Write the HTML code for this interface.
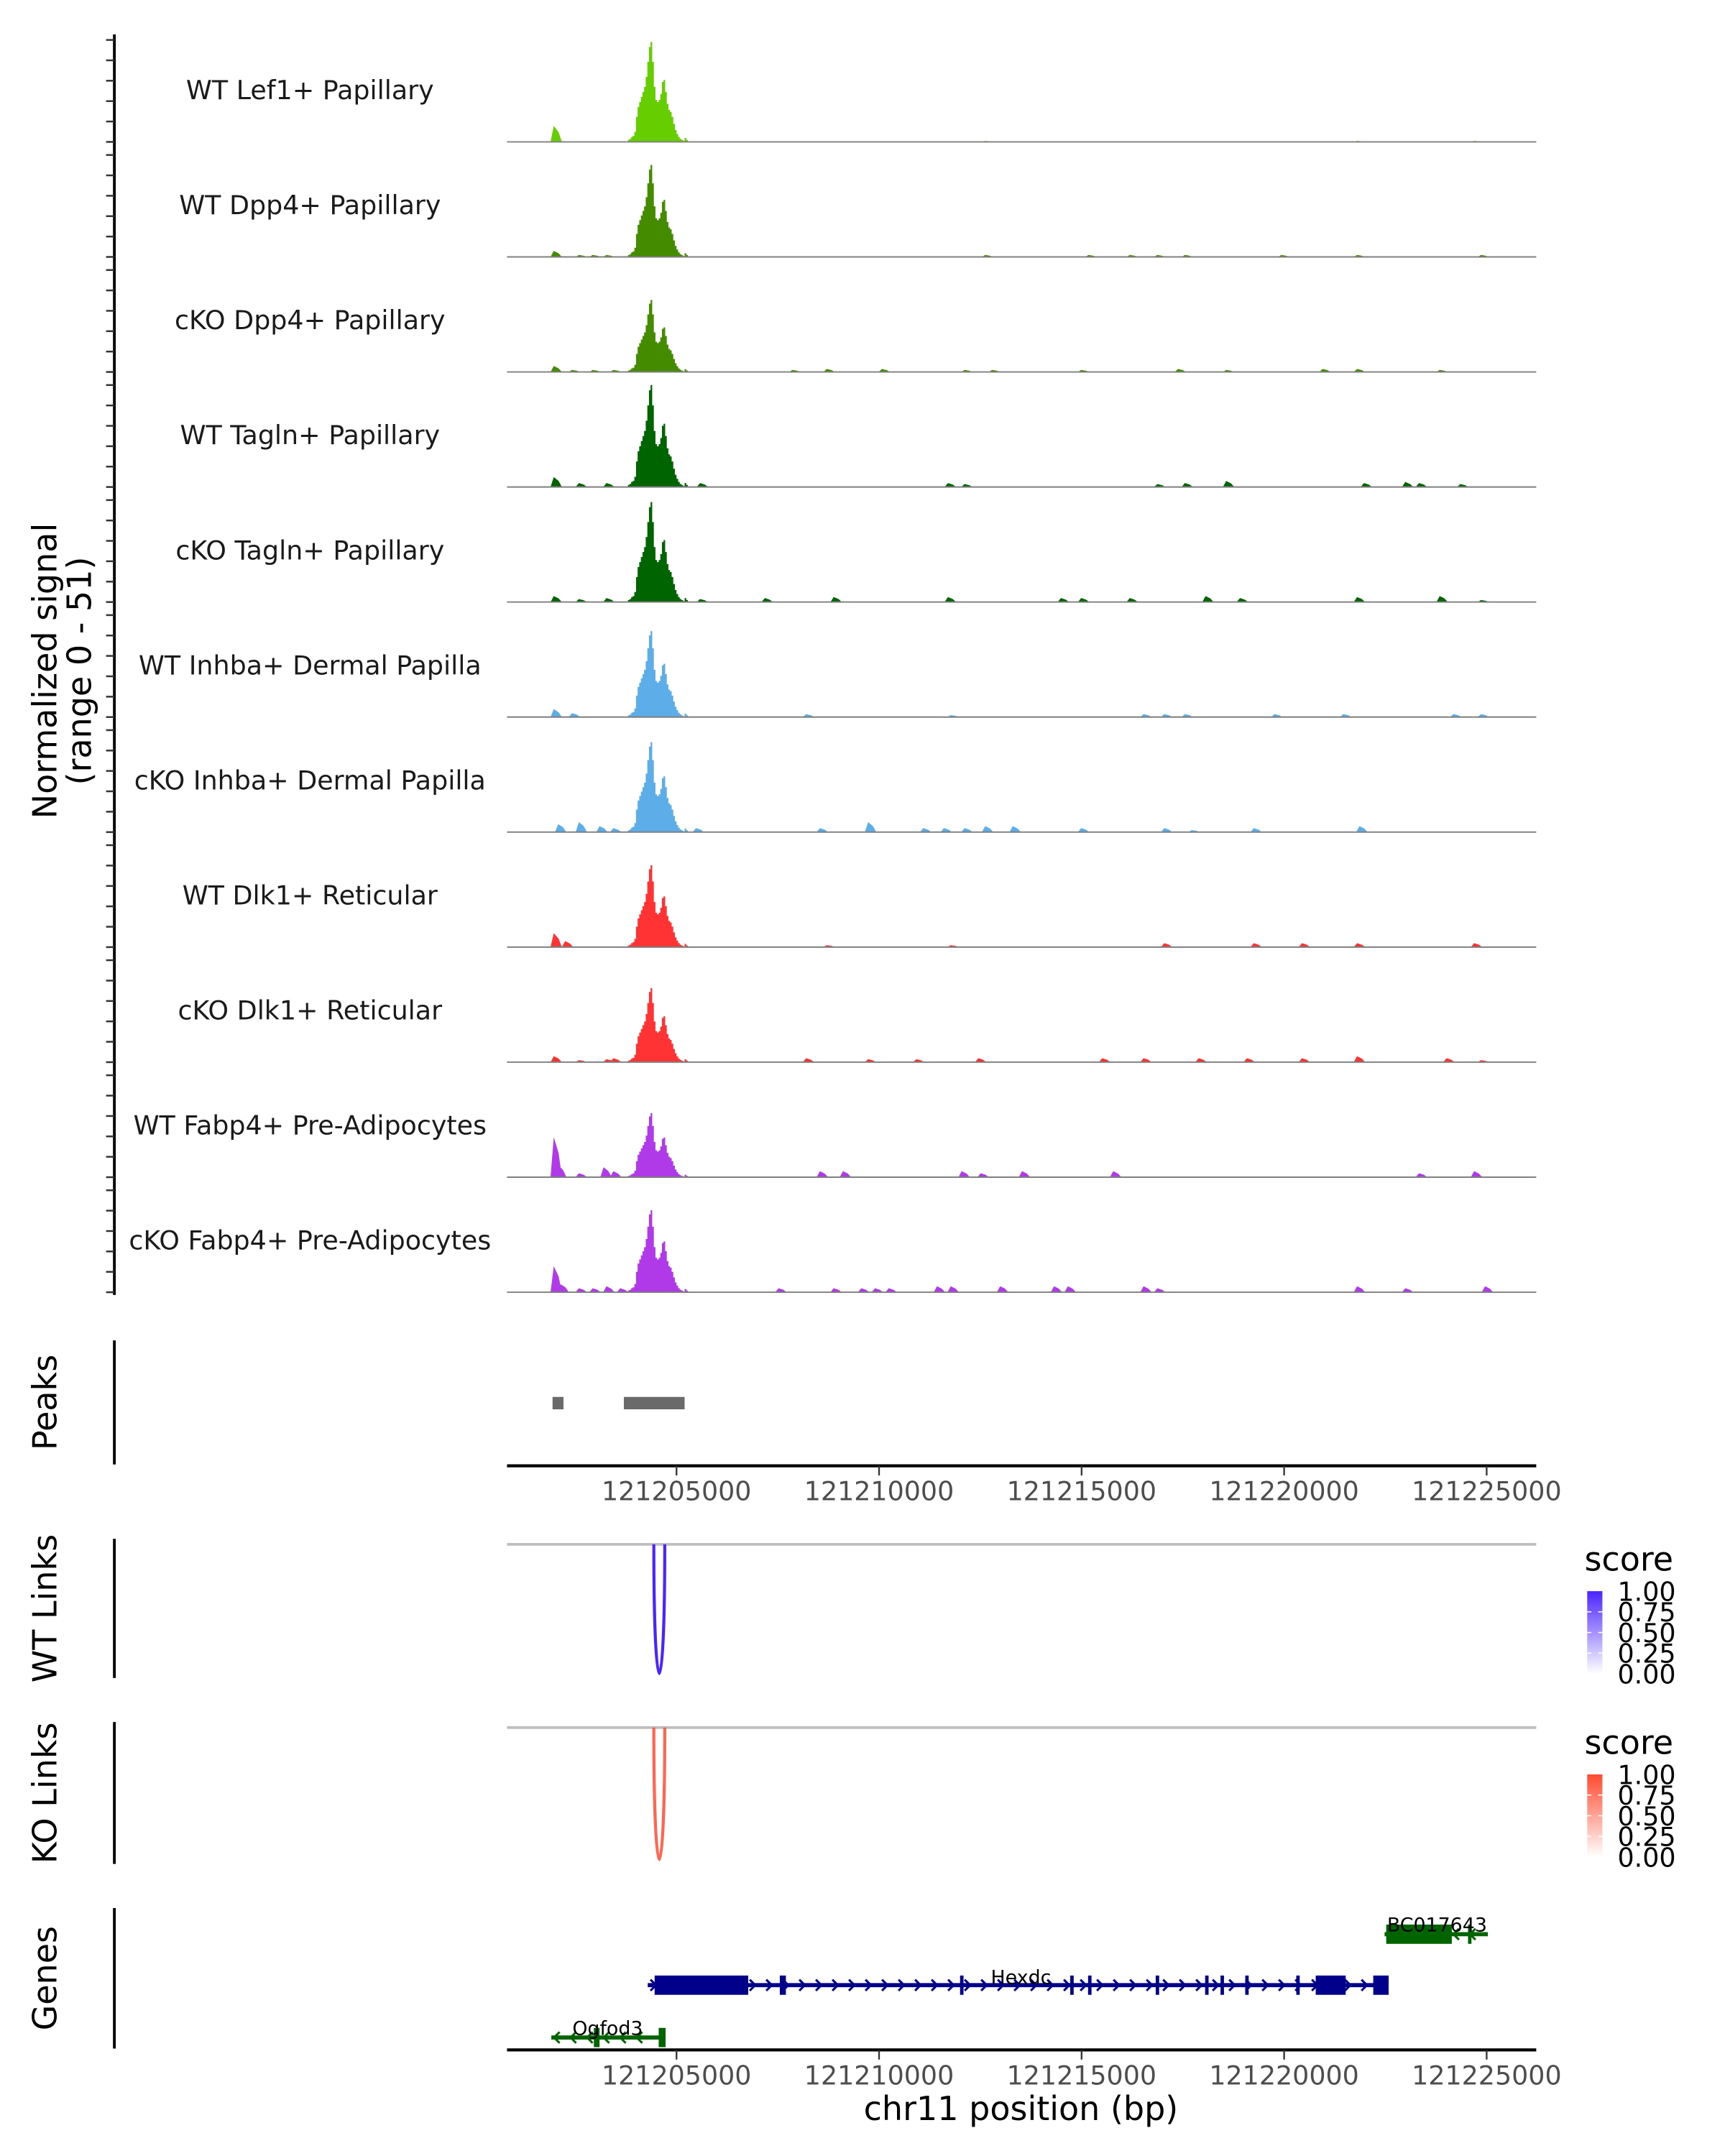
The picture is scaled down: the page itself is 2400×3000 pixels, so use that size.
<!DOCTYPE html>
<html><head><meta charset="utf-8"><style>
html,body{margin:0;padding:0;background:#fff;}
svg{display:block;font-family:"DejaVu Sans","Liberation Sans",sans-serif;}
</style></head><body>
<svg id="chart" width="2400" height="3000" viewBox="0 0 1252 1565" xmlns="http://www.w3.org/2000/svg">
<g id="static"></g>
</svg>
<script>
// ---- data ----
const chromStart = 121200000;
const xMinBp = 121200816, xMaxBp = 121226224;
const tickValues = [121205000, 121210000, 121215000, 121220000, 121225000];
const tickLabels = ["121205000","121210000","121215000","121220000","121225000"];
const trackNames = ["WT Lef1+ Papillary","WT Dpp4+ Papillary","cKO Dpp4+ Papillary","WT Tagln+ Papillary","cKO Tagln+ Papillary","WT Inhba+ Dermal Papilla","cKO Inhba+ Dermal Papilla","WT Dlk1+ Reticular","cKO Dlk1+ Reticular","WT Fabp4+ Pre-Adipocytes","cKO Fabp4+ Pre-Adipocytes"];
const trackColors = ["#66cd00","#458b00","#458b00","#006400","#006400","#5dade9","#5dade9","#ff3333","#ff3333","#b03ae8","#b03ae8"];
const peakMax = [50,46,36,51,50,43,45,41,37,32,41];
const yMax = 51;
const profileStartKb = 3.8, profileBinKb = 0.04;
const profile = [0.02,0.03,0.05,0.06,0.1,0.25,0.35,0.4,0.45,0.5,0.55,0.65,0.8,0.95,1.0,0.8,0.55,0.42,0.4,0.42,0.48,0.6,0.62,0.5,0.38,0.32,0.3,0.25,0.18,0.12,0.08,0.05,0.03,0.02,0.01,0.04,0.02,0,0,0];
const bumpPos = [
 [1.97,12.62,21.80,24.69],
 [1.97,2.59,2.93,3.27,12.62,15.17,16.19,16.87,17.55,19.93,21.80,24.86],
 [1.97,2.42,2.93,3.44,7.86,8.71,10.07,12.11,12.79,14.99,17.38,18.57,20.95,21.80,23.84],
 [1.97,2.59,3.27,5.58,11.70,12.11,16.87,17.55,18.57,21.97,22.99,23.33,24.35],
 [1.97,2.59,3.27,5.58,7.18,8.88,11.70,14.49,14.99,16.19,18.06,18.91,21.80,23.84,24.86],
 [1.97,2.42,8.20,11.77,16.53,17.04,17.55,19.76,21.46,24.18,24.86],
 [2.08,2.59,3.10,3.44,5.48,8.54,9.73,11.09,11.60,12.11,12.62,13.30,14.99,17.04,17.72,19.25,21.86],
 [1.97,2.25,8.71,11.77,17.04,19.25,20.44,21.80,24.69],
 [1.97,2.59,3.27,3.44,8.20,9.73,10.92,12.45,15.51,16.53,17.89,19.08,20.44,21.80,24.01,24.86],
 [1.97,2.08,2.59,3.20,3.44,8.54,9.11,12.04,12.51,13.53,15.78,23.33,24.69],
 [1.97,2.14,2.59,2.93,3.27,3.61,7.52,8.88,9.56,9.90,10.24,11.43,11.77,12.99,14.32,14.66,16.53,16.87,21.80,22.99,24.96]
];
const bumpHeight = [
 [8,0.5,0.5,0.5],
 [3,1,1,1,1,1,1,1,1,1,1,1],
 [3,1,1,1,1,1.5,1.5,1,1,1,1.5,1,1.5,1.5,1],
 [5,2,2,2,2,1.5,1.5,2,3,2,2.5,2,1.5],
 [3,1.5,2,1.5,2,2.5,2.5,2,2,2,3,2,2.5,3,1],
 [4,2,1.5,1,1.5,1.5,1.5,1.5,1.5,1.5,1.5],
 [4,5,3,2,2,2,5,2,2,2,3,3,2,2,1,2,3],
 [7,3,1,1,2,2,2,2,2],
 [3,1,1.5,2,2,1.5,1.5,2,2,2,2,2,2,3,2,1],
 [20,6,2,5,3,3,3,3,2,3,3,2,3],
 [13,4,2,2,3,2,2,2,2,2,2,3,3,3,3,3,3,2,3,2,3]
];
const peakRegionsKb = [[1.94,2.21],[3.70,5.20]];
const linkWT = [[4.44,4.71,1.0]];
const linkKO = [[4.44,4.71,0.75]];
const scoreTicks = ["1.00","0.75","0.50","0.25","0.00"];
// genes: [startKb, endKb]
const hexdcSpan = [4.29,22.58];
const hexdcExons = [[4.46,6.77],[7.55,7.70],[12.00,12.08],[14.72,14.80],[15.16,15.24],[16.83,16.91],[18.05,18.13],[18.43,18.51],[19.04,19.12],[20.30,20.38],[20.78,21.52],[22.20,22.58]];
const bcSpan = [22.48,25.03];
const bcExons = [[22.52,24.14],[24.54,24.62]];
const ogSpan = [1.91,4.73];
const ogExons = [[2.96,3.10],[4.56,4.73]];

// ---- scales ----
const X0 = 368, X1 = 1115;
function xs(bp){ return X0 + (bp - xMinBp) / (xMaxBp - xMinBp) * (X1 - X0); }
function xk(kb){ return xs(chromStart + kb*1000); }
const trackH = 74, firstBase = 103, trackStep = 83.5;
function ys(i, v){ return firstBase + i*trackStep - v / yMax * trackH; }

const NS = "http://www.w3.org/2000/svg";
const root = document.getElementById("static");
function mk(tag, attrs, parent){
  const e = document.createElementNS(NS, tag);
  for (const k in attrs) e.setAttribute(k, attrs[k]);
  (parent||root).appendChild(e);
  return e;
}
function txt(s, attrs, parent){ const e = mk("text", attrs, parent); e.textContent = s; return e; }

let el = mk("line",{x1:83,y1:25,x2:83,y2:940,stroke:"#000","stroke-width":2});


for (let i=0;i<trackNames.length;i++){
  const b = firstBase + i*trackStep;
  for (let k=0;k<6;k++){
    const t = mk("line",{x1:77,x2:83,y1:b-k*trackH/5,y2:b-k*trackH/5,stroke:"#333","stroke-width":1.3});
    
    
  }
}
let yl = txt("",{transform:"translate(41,487) rotate(-90)","text-anchor":"middle","font-size":24,fill:"#000"});


const ts1 = mk("tspan",{x:0,dy:0},yl); ts1.textContent="Normalized signal";
const ts2 = mk("tspan",{x:0,dy:25},yl); ts2.textContent="(range 0 - 51)";

for (let i=0;i<trackNames.length;i++){
  const g = mk("g",{});
  
  
  const b = firstBase + i*trackStep;
  const lab = txt(trackNames[i],{x:225,y:b-31,"text-anchor":"middle","font-size":19,fill:"#1a1a1a"},g);
  
  
  let d = "M"+xk(profileStartKb).toFixed(2)+","+b;
  for (let j=0;j<profile.length;j++){
    const kb = profileStartKb + j*profileBinKb;
    const y = ys(i, profile[j]*peakMax[i]).toFixed(2);
    d += " L"+xk(kb).toFixed(2)+","+y+" L"+xk(kb+profileBinKb).toFixed(2)+","+y;
  }
  d += " L"+xk(profileStartKb+profile.length*profileBinKb).toFixed(2)+","+b+" Z";
  for (let j=0;j<bumpPos[i].length;j++){
    const p = bumpPos[i][j], h = bumpHeight[i][j];
    d += " M"+xk(p-0.08).toFixed(2)+","+b+" L"+xk(p).toFixed(2)+","+ys(i,h).toFixed(2)+" L"+xk(p+0.12).toFixed(2)+","+ys(i,h*0.6).toFixed(2)+" L"+xk(p+0.2).toFixed(2)+","+b+" Z";
  }
  const area = mk("path",{d:d,fill:trackColors[i]},g);
  
  
  const bl = mk("line",{x1:X0,x2:X1,y1:b,y2:b,stroke:"#7f7f7f","stroke-width":1},g);
  
  
}

function panelAxis(y1,y2,label,name){
  const a = mk("line",{x1:83,x2:83,y1:y1,y2:y2,stroke:"#000","stroke-width":2});
  
  
  const t = txt(label,{transform:"translate(41,"+((y1+y2)/2)+") rotate(-90)","text-anchor":"middle","font-size":24,fill:"#000"});
  
  
}
function xAxis(y,name){
  const g = mk("g",{});
  
  
  mk("line",{x1:X0,x2:X1,y1:y,y2:y,stroke:"#000","stroke-width":2.2},g);
  for (let k=0;k<tickValues.length;k++){
    const x = xs(tickValues[k]);
    mk("line",{x1:x,x2:x,y1:y,y2:y+7,stroke:"#333","stroke-width":1.2},g);
    const t = txt(tickLabels[k],{x:x,y:y+25,"text-anchor":"middle","font-size":19,fill:"#4d4d4d"},g);
    
    
  }
}

panelAxis(973,1063,"Peaks","peaks");
for (const r of peakRegionsKb){
  const p = mk("rect",{x:xk(r[0]),y:1014,width:xk(r[1])-xk(r[0]),height:9,fill:"#6a6a6a"});
  
  
}
xAxis(1064,"peaks-x-axis");

function linkPanel(top,bottom,label,name,links,colTop,gradId){
  panelAxis(top-4,bottom,label,name);
  const gl = mk("line",{x1:X0,x2:X1,y1:top,y2:top,stroke:"#bebebe","stroke-width":2});
  
  
  for (const l of links){
    const a = xk(l[0]), b = xk(l[1]), depth = bottom-3-top;
    const c = mk("path",{d:"M"+a+","+top+" C"+a+","+(top+depth*1.33)+" "+b+","+(top+depth*1.33)+" "+b+","+top,fill:"none",stroke:colTop,"stroke-width":2.2,"stroke-opacity":0.4+0.6*l[2]});
    
    
  }
  const lg = mk("g",{});
  
  
  txt("score",{x:1150,y:top+19,"font-size":24,fill:"#000"},lg);
  const defs = mk("defs",{},lg);
  const grad = mk("linearGradient",{id:gradId,x1:0,y1:0,x2:0,y2:1},defs);
  mk("stop",{offset:"0",  "stop-color":colTop},grad);
  mk("stop",{offset:"1","stop-color":"#ffffff"},grad);
  const by = top+34;
  mk("rect",{x:1152,y:by,width:11,height:60,fill:"url(#"+gradId+")"},lg);
  for (let k=0;k<scoreTicks.length;k++){
    const y = by + k*15;
    if (k>0 && k<4) { mk("line",{x1:1152,x2:1155,y1:y,y2:y,stroke:"#fff","stroke-width":0.8},lg); mk("line",{x1:1160,x2:1163,y1:y,y2:y,stroke:"#fff","stroke-width":0.8},lg); }
    txt(scoreTicks[k],{x:1174,y:y+7,"font-size":19,fill:"#000"},lg);
  }
}
linkPanel(1121,1218,"WT Links","wt-links",linkWT,"#4b25ff","gWT");
linkPanel(1254,1353,"KO Links","ko-links",linkKO,"#ff4a30","gKO");

panelAxis(1385,1487,"Genes","genes");
function gene(span,exons,y,color,dir,label,lx,ly,name){
  const g = mk("g",{});
  
  
  mk("line",{x1:xk(span[0]),x2:xk(span[1]),y1:y,y2:y,stroke:color,"stroke-width":3},g);
  const n = Math.floor((xk(span[1])-xk(span[0]))/12);
  for (let k=0;k<n;k++){
    const x = xk(span[0]) + 4 + k*12;
    const d = dir>0 ? "M"+(x-2)+","+(y-4)+" L"+(x+2)+","+y+" L"+(x-2)+","+(y+4) : "M"+(x+2)+","+(y-4)+" L"+(x-2)+","+y+" L"+(x+2)+","+(y+4);
    mk("path",{d:d,fill:"none",stroke:color,"stroke-width":1.6},g);
  }
  for (const e of exons){
    const w = Math.max(xk(e[1])-xk(e[0]),2.5);
    mk("rect",{x:xk(e[0]),y:y-7,width:w,height:14,fill:color},g);
  }
  const t = txt(label,{x:lx,y:ly,"text-anchor":"middle","font-size":14,fill:"#000"},g);
  
  
}
gene(hexdcSpan,hexdcExons,1441,"#00008b",1,"Hexdc",741,1440,"gene-hexdc");
gene(bcSpan,bcExons,1404,"#006400",-1,"BC017643",1043,1402,"gene-bc017643");
gene(ogSpan,ogExons,1479,"#006400",-1,"Ogfod3",441,1477,"gene-ogfod3");
xAxis(1488,"genes-x-axis");
const xt = txt("chr11 position (bp)",{x:741,y:1539,"text-anchor":"middle","font-size":24,fill:"#000"});


</script>
</body></html>
